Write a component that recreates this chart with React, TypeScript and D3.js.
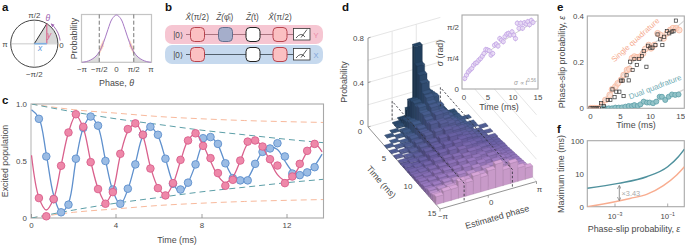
import React from "react";
import * as d3 from "d3";

const FONT = "'Liberation Sans', Arial, sans-serif";
const INK = "#4a4a4a";
const FRAME = "#a8a8a8";
const PI = Math.PI;
const TICK = 7.9;
const LABEL = 8.9;

// panel a
const thetaGrid = d3.range(-8, 9);
const gaussian = [0, 0.015, 0.05, 0.11, 0.22, 0.42, 0.69, 0.92, 1, 0.92, 0.69, 0.42, 0.22, 0.11, 0.05, 0.015, 0];
const lowerFit = [0, 0.015, 0.05, 0.11, 0.16, 0.34, 0.68, 0.92, 1, 0.92, 0.68, 0.34, 0.16, 0.11, 0.05, 0.015, 0];
const sweepAngles = [1.45, 1.3, 1.15, 1.0, 0.85, 0.72];

// panel c
const popTimes = d3.range(1, 39);
const bluePts = [0.87, 0.54, 0.165, 0.05, 0.117, 0.52, 0.79, 0.89, 0.81, 0.5, 0.25, 0.125, 0.257, 0.47, 0.73, 0.8, 0.73, 0.52, 0.3, 0.25, 0.31, 0.47, 0.7, 0.71, 0.65, 0.48, 0.35, 0.33, 0.33, 0.475, 0.58, 0.61, 0.656, 0.54, 0.39, 0.376, 0.4, 0.446];
const pinkPts = [0.175, 0.015, 0.166, 0.458, 0.75, 0.91, 0.8, 0.49, 0.254, 0.125, 0.227, 0.563, 0.78, 0.83, 0.73, 0.434, 0.262, 0.198, 0.306, 0.51, 0.68, 0.743, 0.633, 0.525, 0.394, 0.283, 0.335, 0.504, 0.67, 0.68, 0.627, 0.516, 0.46, 0.306, 0.364, 0.475, 0.589, 0.65];
const blueFit = [0.95, 0.88, 0.56, 0.2, 0.05, 0.13, 0.5, 0.79, 0.89, 0.8, 0.51, 0.24, 0.12, 0.25, 0.48, 0.72, 0.8, 0.72, 0.52, 0.31, 0.22, 0.31, 0.47, 0.66, 0.71, 0.64, 0.48, 0.36, 0.31, 0.35, 0.47, 0.58, 0.62, 0.6, 0.5, 0.41, 0.37, 0.4, 0.46, 0.56];
const pinkFit = [0.55, 0.18, 0.07, 0.17, 0.46, 0.75, 0.9, 0.79, 0.5, 0.26, 0.14, 0.24, 0.55, 0.76, 0.83, 0.72, 0.45, 0.27, 0.2, 0.3, 0.5, 0.68, 0.74, 0.64, 0.5, 0.37, 0.31, 0.36, 0.5, 0.65, 0.68, 0.62, 0.5, 0.38, 0.33, 0.36, 0.46, 0.58, 0.65, 0.58];
const envTimes = [0, 2, 4, 6, 8, 10, 12, 14];
const tealUpper = [1, 0.93, 0.87, 0.82, 0.77, 0.73, 0.69, 0.656];
const tealLower = [0, 0.07, 0.13, 0.18, 0.23, 0.27, 0.31, 0.344];
const peachUpper = [1, 0.95, 0.92, 0.89, 0.87, 0.855, 0.845, 0.837];
const peachLower = [0, 0.05, 0.08, 0.11, 0.13, 0.145, 0.155, 0.163];

// panel d: one list per time row, thirteen phase bins
const barRows = [
  [0, 0, 0, 0, 0.01, 0.08, 0.63, 0.2, 0.06, 0.01, 0, 0, 0],
  [0, 0, 0, 0.01, 0.03, 0.18, 0.48, 0.22, 0.06, 0.02, 0, 0, 0],
  [0, 0, 0, 0.01, 0.05, 0.2, 0.42, 0.23, 0.07, 0.02, 0.005, 0, 0],
  [0, 0, 0.005, 0, 0.06, 0.21, 0.37, 0.24, 0.08, 0.03, 0.005, 0, 0],
  [0, 0.005, 0, 0.02, 0.08, 0.2, 0.3, 0.25, 0.1, 0.04, 0.01, 0, 0],
  [0, 0, 0.01, 0.03, 0.09, 0.22, 0.29, 0.2, 0.11, 0.04, 0.01, 0.005, 0],
  [0, 0.005, 0, 0.02, 0.11, 0.19, 0.26, 0.22, 0.12, 0.05, 0.015, 0, 0],
  [0.005, 0, 0.01, 0.04, 0.1, 0.2, 0.25, 0.19, 0.13, 0.06, 0.015, 0.005, 0],
  [0, 0.01, 0.005, 0.05, 0.12, 0.18, 0.22, 0.2, 0.12, 0.07, 0.02, 0.005, 0],
  [0.005, 0, 0.02, 0.04, 0.11, 0.17, 0.23, 0.18, 0.13, 0.07, 0.03, 0, 0.005],
  [0, 0.015, 0.005, 0.06, 0.12, 0.19, 0.19, 0.17, 0.13, 0.08, 0.025, 0.01, 0],
  [0.01, 0, 0.025, 0.05, 0.13, 0.15, 0.2, 0.18, 0.11, 0.08, 0.04, 0.01, 0.005],
  [0, 0.02, 0.01, 0.07, 0.1, 0.17, 0.17, 0.16, 0.14, 0.09, 0.04, 0.015, 0],
  [0.015, 0.005, 0.03, 0.06, 0.12, 0.14, 0.19, 0.17, 0.12, 0.09, 0.05, 0.01, 0.01],
  [0.005, 0.02, 0.02, 0.08, 0.11, 0.16, 0.16, 0.15, 0.13, 0.09, 0.05, 0.02, 0.005],
  [0.02, 0.01, 0.04, 0.07, 0.12, 0.13, 0.18, 0.14, 0.13, 0.08, 0.06, 0.025, 0.01],
  [0.01, 0.025, 0.03, 0.09, 0.1, 0.15, 0.14, 0.16, 0.11, 0.1, 0.05, 0.03, 0.015],
  [0.025, 0.02, 0.05, 0.07, 0.12, 0.12, 0.17, 0.13, 0.12, 0.08, 0.07, 0.03, 0.02],
  [0.02, 0.03, 0.04, 0.09, 0.09, 0.15, 0.13, 0.15, 0.1, 0.1, 0.06, 0.04, 0.02],
  [0.03, 0.025, 0.06, 0.07, 0.12, 0.11, 0.16, 0.12, 0.12, 0.09, 0.07, 0.045, 0.025],
  [0.025, 0.04, 0.05, 0.09, 0.1, 0.14, 0.12, 0.15, 0.1, 0.11, 0.07, 0.05, 0.03],
  [0.035, 0.03, 0.07, 0.08, 0.12, 0.11, 0.15, 0.11, 0.12, 0.09, 0.09, 0.05, 0.035],
  [0.03, 0.05, 0.06, 0.1, 0.09, 0.14, 0.11, 0.14, 0.1, 0.12, 0.08, 0.06, 0.04],
  [0.04, 0.04, 0.08, 0.08, 0.12, 0.1, 0.15, 0.11, 0.12, 0.09, 0.1, 0.06, 0.045],
  [0.035, 0.06, 0.07, 0.1, 0.09, 0.14, 0.11, 0.14, 0.09, 0.12, 0.09, 0.07, 0.05],
  [0.05, 0.05, 0.09, 0.08, 0.12, 0.1, 0.14, 0.11, 0.12, 0.09, 0.11, 0.07, 0.055],
  [0.045, 0.07, 0.08, 0.11, 0.09, 0.13, 0.1, 0.14, 0.09, 0.13, 0.09, 0.08, 0.06],
  [0.055, 0.06, 0.09, 0.09, 0.12, 0.1, 0.13, 0.11, 0.12, 0.1, 0.11, 0.08, 0.07],
  [0.07, 0.1, 0.1, 0.15, 0.12, 0.16, 0.13, 0.17, 0.21, 0.14, 0.18, 0.12, 0.1],
];

// inset of panel d
const sigmaTimes = [0.35, 0.7, 1.05, 1.4, 1.75, 2.1, 2.45, 2.8, 3.15, 3.5, 3.85, 4.2, 4.55, 4.9, 5.25, 5.6, 5.95, 6.3, 6.65, 7, 7.35, 7.7, 8.05, 8.4, 8.75, 9.1, 9.45, 9.8, 10.15, 10.5, 10.85, 11.2, 11.55, 11.9, 12.25, 12.6, 12.95, 13.3, 13.65, 14];
const sigmaVals = [0.255, 0.34, 0.42, 0.47, 0.51, 0.59, 0.64, 0.66, 0.72, 0.76, 0.82, 0.89, 0.99, 0.98, 0.96, 0.85, 0.89, 1.1, 1.13, 1.08, 1.27, 1.23, 1.19, 1.32, 1.38, 1.4, 1.36, 1.44, 1.36, 1.27, 1.66, 1.53, 1.66, 1.53, 1.67, 1.64, 1.7, 1.62, 1.73, 1.68];
const sigmaFitT = [0, 1, 2, 4, 6, 8, 10, 12, 14, 15];
const sigmaFitV = [0.2, 0.42, 0.57, 0.82, 1.02, 1.2, 1.37, 1.52, 1.67, 1.73];

// panel e
const squareT = [0, 0.35, 0.7, 1.05, 1.4, 1.77, 2.2, 2.87, 3.3, 3.65, 4, 4.3, 4.8, 5.1, 5.35, 5.5, 6, 6.35, 6.6, 7, 7.3, 7.7, 8.1, 8.55, 8.85, 9.3, 9.6, 9.95, 10.3, 10.8, 11.15, 11.6, 11.95, 12.25, 12.7, 13.1, 13.5, 13.8, 14.2];
const squareV = [0, 0, 0, 0, 0, 0.022, 0.01, 0.036, 0.036, 0.082, 0.048, 0.072, 0.072, 0.12, 0.12, 0.053, 0.143, 0.121, 0.202, 0.166, 0.214, 0.188, 0.214, 0.227, 0.248, 0.18, 0.271, 0.263, 0.263, 0.274, 0.32, 0.299, 0.274, 0.31, 0.335, 0.325, 0.332, 0.334, 0.38];
const singleT = [0, 0.35, 0.7, 1.05, 1.4, 1.93, 2.49, 3.2, 3.59, 4.14, 4.53, 5.08, 5.52, 6.08, 6.46, 6.9, 7.29, 7.73, 8.29, 8.73, 9.12, 9.67, 10.06, 10.6, 11.16, 11.6, 12.15, 12.7, 13.26, 13.7, 14.25, 14.75];
const singleV = [0, 0, 0, 0, 0, 0.014, 0.036, 0.058, 0.082, 0.094, 0.108, 0.123, 0.144, 0.166, 0.17, 0.217, 0.224, 0.221, 0.224, 0.238, 0.257, 0.274, 0.26, 0.274, 0.325, 0.318, 0.303, 0.325, 0.339, 0.347, 0.347, 0.339];
const dualT = [2.1, 2.49, 3.04, 3.59, 4.14, 4.7, 5.25, 5.8, 6.35, 6.9, 7.3, 7.85, 8.3, 8.84, 9.4, 9.83, 10.4, 10.94, 11.5, 11.88, 12.43, 13, 13.54, 14.09, 14.64];
const dualV = [0, 0, 0, 0, 0.003, 0.003, 0.004, 0.007, 0.01, 0.01, 0.014, 0.01, 0.017, 0.029, 0.025, 0.025, 0.022, 0.029, 0.05, 0.05, 0.036, 0.05, 0.06, 0.058, 0.06];
const singleFitT = [1.1, 3, 6, 10, 14, 15.6];
const singleFitV = [0, 0.06, 0.17, 0.27, 0.345, 0.38];
const dualFitT = [3.3, 6, 10, 13, 15.6];
const dualFitV = [0, 0.008, 0.025, 0.05, 0.082];

// panel f
const tealEps = [8.9e-5, 1.34e-3, 0.0159, 0.1, 0.254, 0.43];
const tealTime = [2.99, 4.66, 7.96, 16.6, 33.5, 56.6];
const peachEps = [8.9e-5, 1e-3, 3.7e-3, 0.0159, 0.0684, 0.22, 0.43];
const peachTime = [0, 0.494, 0.92, 1.59, 3.84, 9.03, 16.6];

// circuit of panel b
const gateNames = ["a", "b", "c", "d"];
const gateLabels = ["X̂(π/2)", "Ẑ(φ̂ᵢ)", "Ẑ(t)", "X̂(π/2)"];

const T = ({ x, y, size = TICK, fill = INK, anchor = "middle", rotate, italic, bold, children }: any) => (
  <text
    x={x}
    y={y}
    fontSize={size}
    fill={fill}
    textAnchor={anchor}
    fontFamily={FONT}
    fontStyle={italic ? "italic" : undefined}
    fontWeight={bold ? 700 : undefined}
    transform={rotate !== undefined ? `rotate(${rotate} ${x} ${y})` : undefined}
  >
    {children}
  </text>
);

// single-qubit circle and phase distribution
function PanelA() {
  const cx = 34.3;
  const cy = 43.7;
  const r = 23.6;
  const ang = (58 * PI) / 180;
  const wedge = d3.arc()({ innerRadius: 0, outerRadius: r, startAngle: PI / 2 - ang, endAngle: PI / 2 } as any) || "";
  const sweep = d3.lineRadial<number>().angle((d) => d).radius(r + 2.4).curve(d3.curveCatmullRom)(sweepAngles) || "";
  const tipX = r * Math.cos(ang);
  const tipY = -r * Math.sin(ang);
  const x = d3.scaleLinear().domain([-PI, PI]).range([82, 151]);
  const y = d3.scaleLinear().domain([0, 1]).range([62.3, 15]);
  const th = thetaGrid.map((d) => (d * PI) / 8);
  const line = d3.line<number>().x((_, i) => x(th[i])).y((d) => y(d)).curve(d3.curveCatmullRom);
  const tail = (a: number, b: number) =>
    d3.area<number>().x((i) => x(th[i])).y0(y(0)).y1((i) => y(gaussian[i])).curve(d3.curveCatmullRom)(d3.range(a, b + 1)) || "";
  const wing = (idx: number[]) =>
    d3.area<number>().x((i) => x(th[i])).y0((i) => y(lowerFit[i])).y1((i) => y(gaussian[i] + 0.07))(idx) || "";
  const tickNames = ["−π", "−π/2", "0", "π/2", "π"];
  return (
    <g>
      <T x={2} y={11} size={11.5} fill="#111" anchor="start" bold>a</T>
      <g transform={`translate(${cx},${cy})`}>
        <line x1={-r} x2={r} y1={0} y2={0} stroke="#dcdcdc" strokeWidth={1.6} />
        <line x1={0} x2={0} y1={-r} y2={r} stroke="#dcdcdc" strokeWidth={1} />
        <path d={wedge} fill="#d8d8d8" />
        <circle r={r} fill="none" stroke="#444" strokeWidth={1} />
        <line x1={0} y1={0} x2={tipX} y2={tipY} stroke="#333" strokeWidth={1} />
        <line x1={tipX} y1={0} x2={tipX} y2={tipY} stroke="#d95f8a" strokeWidth={1.1} />
        <line x1={0} y1={0} x2={tipX} y2={0} stroke="#7fb0e2" strokeWidth={1.6} />
        <path d={sweep} fill="none" stroke="#9c63b0" strokeWidth={0.9} markerEnd="url(#arcHead)" />
      </g>
      <T x={34.3} y={17.5}>π/2</T>
      <T x={34.3} y={76.5}>−π/2</T>
      <T x={5} y={46.5}>π</T>
      <T x={61.5} y={47.5}>0</T>
      <T x={47.8} y={21} fill="#9c63b0" italic size={8.5}>θ</T>
      <T x={49} y={38} fill="#d95f8a" italic size={8.5}>y</T>
      <T x={40} y={51} fill="#5d94d6" italic size={8.5}>x</T>

      <path d={tail(0, 4)} fill="#dcdcdc" />
      <path d={tail(12, 16)} fill="#dcdcdc" />
      <path d={wing([4, 5])} fill="#fbd0b8" />
      <path d={wing([11, 12])} fill="#fbd0b8" />
      <rect x={81.5} y={14.5} width={70} height={47.8} fill="none" stroke="#c4c4c4" strokeWidth={1.2} />
      <path d={line(gaussian) || ""} fill="none" stroke="#a678c4" strokeWidth={1} />
      {[-PI / 2, PI / 2].map((d) => (
        <line key={d} x1={x(d)} x2={x(d)} y1={14.5} y2={62.3} stroke="#666" strokeWidth={0.9} strokeDasharray="4 2.2" />
      ))}
      {[-PI, -PI / 2, 0, PI / 2, PI].map((d, i) => (
        <T key={d} x={x(d)} y={71.5}>{tickNames[i]}</T>
      ))}
      <T x={77} y={38.5} size={LABEL} rotate={-90}>Probability</T>
      <T x={116.5} y={86} size={LABEL}>Phase, <tspan fontStyle="italic">θ</tspan></T>
    </g>
  );
}

function PanelB() {
  const gx = d3.scalePoint<string>().domain(gateNames).range([197.2, 280]);
  const bands = [
    { y: 25, fill: "#f6c6d2", wire: "#a9737f", label: "Y", labelFill: "#ea8aa6" },
    { y: 45, fill: "#c6d9ee", wire: "#52606c", label: "X", labelFill: "#7fa5d8" },
  ];
  return (
    <g>
      <T x={165} y={11} size={11.5} fill="#111" anchor="start" bold>b</T>
      {gateLabels.map((d, i) => (
        <T key={i} x={gx(gateNames[i])} y={20} size={8.2}>
          <tspan fontStyle="italic">{d.slice(0, 2)}</tspan>
          {d.slice(2)}
        </T>
      ))}
      {bands.map((b, row) => {
        const my = b.y + 9.5;
        return (
          <g key={b.label}>
            <rect x={165} y={b.y} width={158} height={19} rx={7} fill={b.fill} />
            <T x={178} y={my + 3} size={8.2}>|0⟩</T>
            <line x1={186} x2={293} y1={my} y2={my} stroke={b.wire} strokeWidth={1} />
            <rect x={190.5} y={my - 7} width={14} height={14} rx={4} fill="#fbc0c2" stroke="#b8444e" strokeWidth={1} />
            {row === 0 && <rect x={218.5} y={my - 7} width={14} height={14} rx={4} fill="#a5aecb" stroke="#66708f" strokeWidth={1} />}
            <rect x={246} y={my - 7} width={14} height={14} rx={4} fill="#fff" stroke="#222" strokeWidth={1} />
            <rect x={273} y={my - 7} width={14} height={14} rx={4} fill="#fbc0c2" stroke="#b8444e" strokeWidth={1} />
            <rect x={293.5} y={my - 6} width={16.5} height={11.5} fill="#fff" stroke="#333" strokeWidth={0.8} />
            <path d={`M296 ${my + 3.5}Q301 ${my - 3} 305 ${my + 2.5}M301 ${my + 3}L307 ${my - 5}`} fill="none" stroke="#333" strokeWidth={0.8} />
            <T x={316} y={my + 3} size={7.5} fill={b.labelFill}>{b.label}</T>
          </g>
        );
      })}
    </g>
  );
}

function PanelC() {
  const x = d3.scaleLinear().domain([0, 4, 8, 12]).range([31.5, 116, 202, 287]);
  const y = d3.scaleLinear().domain([0, 1]).range([218, 104]);
  const tOf = (k: number) => k * 0.35;
  const fit = d3.line<number>().x((_, i) => x(tOf(i))).y((d) => y(d)).curve(d3.curveCatmullRom);
  const env = d3.line<number>().x((_, i) => x(envTimes[i])).y((d) => y(d)).curve(d3.curveMonotoneX);
  return (
    <g>
      <T x={2} y={104} size={11.5} fill="#111" anchor="start" bold>c</T>
      <defs>
        <clipPath id="clipC"><rect x={31} y={104} width={292} height={114} /></clipPath>
      </defs>
      <rect x={31} y={104} width={292.5} height={114} fill="none" stroke={FRAME} strokeWidth={1.1} />
      <line x1={31} x2={31} y1={104} y2={218} stroke="#d8d8d8" strokeWidth={2} />
      <g clipPath="url(#clipC)" fill="none" strokeWidth={1} strokeDasharray="6 4">
        <path d={env(peachUpper) || ""} stroke="#f8b99c" />
        <path d={env(peachLower) || ""} stroke="#f8b99c" />
        <path d={env(tealUpper) || ""} stroke="#5d9fa8" />
        <path d={env(tealLower) || ""} stroke="#5d9fa8" />
      </g>
      <g clipPath="url(#clipC)" fill="none" strokeWidth={1.3}>
        <path d={fit(blueFit) || ""} stroke="#5f90cd" />
      </g>
      {popTimes.map((k, i) => (
        <circle key={k} cx={x(tOf(k))} cy={y(bluePts[i])} r={3.8} fill="#9bbce4" stroke="#5f90cd" strokeWidth={0.9} />
      ))}
      <g clipPath="url(#clipC)" fill="none" strokeWidth={1.3}>
        <path d={fit(pinkFit) || ""} stroke="#d9608c" />
      </g>
      {popTimes.map((k, i) => (
        <circle key={k} cx={x(tOf(k))} cy={y(pinkPts[i])} r={3.8} fill="#ee88a9" stroke="#d9608c" strokeWidth={0.9} />
      ))}
      {[0, 4, 8, 12].map((d) => (
        <g key={d}>
          <line x1={x(d)} x2={x(d)} y1={214} y2={218} stroke="#888" strokeWidth={0.8} />
          <T x={x(d)} y={228}>{d}</T>
        </g>
      ))}
      {[[1, "1.0"], [0.5, "0.5"], [0, "0"]].map(([d, s]: any) => (
        <T key={s} x={27} y={y(d) + 3} anchor="end">{s}</T>
      ))}
      <T x={8} y={161} size={LABEL} rotate={-90}>Excited population</T>
      <T x={177} y={243} size={LABEL}>Time (ms)</T>
    </g>
  );
}

function PanelD() {
  const oX = 368;
  const oY = 127;
  const pdx = d3.scaleLinear().domain([-PI, PI]).range([0, 96.5]);
  const pdy = d3.scaleLinear().domain([-PI, PI]).range([0, -27.5]);
  const tdx = d3.scaleLinear().domain([0, 15]).range([0, 72]);
  const tdy = d3.scaleLinear().domain([0, 15]).range([0, 82]);
  const zdy = d3.scaleLinear().domain([0, 0.8]).range([0, -89]);
  const px = (p: number, t: number) => oX + pdx(p) + tdx(t);
  const py = (p: number, t: number, z = 0) => oY + pdy(p) + tdy(t) + zdy(z);
  const poly = (pts: [number, number, number][]) =>
    pts.map(([p, t, z]) => `${px(p, t).toFixed(2)},${py(p, t, z).toFixed(2)}`).join(" ");

  const nBins = barRows[0].length;
  const binW = (2 * PI) / nBins;
  const rowDepth = 14.2 / barRows.length;
  const colour = d3
    .scaleLinear<string>()
    .domain([0, 3, 8, 12, 14.2])
    .range(["#1f3c58", "#3d5680", "#64599a", "#9373b5", "#cf9fcb"]);

  const bars: React.ReactNode[] = [];
  barRows.forEach((row, r) => {
    const t0 = r * rowDepth;
    const t1 = t0 + rowDepth;
    const base = colour(t0 + rowDepth / 2);
    const top = d3.color(base)!.brighter(0.2).formatHex();
    const left = d3.color(base)!.darker(0.6).formatHex();
    const edge = d3.color(base)!.darker(0.5).formatHex();
    for (let c = nBins - 1; c >= 0; c--) {
      const h = row[c];
      if (h <= 0) continue;
      const p0 = -PI + c * binW;
      const p1 = p0 + binW;
      bars.push(
        <g key={`${r}-${c}`} stroke={edge} strokeWidth={0.35}>
          <polygon points={poly([[p0, t0, 0], [p0, t1, 0], [p0, t1, h], [p0, t0, h]])} fill={left} />
          <polygon points={poly([[p0, t1, 0], [p1, t1, 0], [p1, t1, h], [p0, t1, h]])} fill={base} />
          <polygon points={poly([[p0, t0, h], [p1, t0, h], [p1, t1, h], [p0, t1, h]])} fill={top} />
        </g>
      );
    }
  });

  const sx = d3.scaleLinear().domain([0, 15]).range([463, 538]);
  const sy = d3.scaleLinear().domain([0, PI / 2]).range([88.5, 26.7]);
  const sigFit = d3.line<number>().x((_, i) => sx(sigmaFitT[i])).y((d) => sy(d));

  const GRID = "#dedede";
  return (
    <g>
      <T x={342} y={11} size={11.5} fill="#111" anchor="start" bold>d</T>
      {[0, 0.2, 0.4, 0.6, 0.8].map((z) => (
        <line key={z} x1={px(-PI, 0)} y1={py(-PI, 0, z)} x2={px(PI / 2, 0)} y2={py(PI / 2, 0, z)} stroke={GRID} strokeWidth={0.8} />
      ))}
      {[-PI / 2, 0].map((p) => (
        <line key={p} x1={px(p, 0)} y1={py(p, 0, 0)} x2={px(p, 0)} y2={py(p, 0, 0.8)} stroke={GRID} strokeWidth={0.8} />
      ))}
      {[0, 0.2, 0.4, 0.6].map((z) => (
        <line key={z} x1={px(PI, 0)} y1={py(PI, 0, z)} x2={px(PI, 15)} y2={py(PI, 15, z)} stroke={GRID} strokeWidth={0.8} />
      ))}
      <line x1={oX} x2={oX} y1={py(-PI, 0, 0)} y2={py(-PI, 0, 0.8)} stroke="#888" strokeWidth={0.9} />
      {[0, 0.4, 0.8].map((z) => (
        <g key={z}>
          <line x1={oX} x2={oX + 2.5} y1={py(-PI, 0, z)} y2={py(-PI, 0, z) - 0.7} stroke="#888" strokeWidth={0.8} />
          <T x={oX - 4} y={py(-PI, 0, z) + (z === 0 ? -2 : 3)} anchor="end">{z}</T>
        </g>
      ))}
      <line x1={px(-PI, 0)} y1={py(-PI, 0)} x2={px(-PI, 15)} y2={py(-PI, 15)} stroke="#888" strokeWidth={0.9} />
      <line x1={px(-PI, 15)} y1={py(-PI, 15)} x2={px(PI, 15)} y2={py(PI, 15)} stroke="#888" strokeWidth={0.9} />
      {[0, 5, 10, 15].map((t) => (
        <T key={t} x={px(-PI, t) - 8} y={py(-PI, t) + 7}>{t}</T>
      ))}
      {[[-PI, "−π"], [0, "0"], [PI, "π"]].map(([p, s]: any) => (
        <g key={s}>
          <line x1={px(p, 15)} y1={py(p, 15)} x2={px(p, 15)} y2={py(p, 15) + 2.5} stroke="#888" strokeWidth={0.8} />
          <T x={px(p, 15) + 3} y={py(p, 15) + 10}>{s}</T>
        </g>
      ))}
      <T x={346.5} y={82} size={LABEL} rotate={-90}>Probability</T>
      <T x={379} y={184} size={LABEL} rotate={49}>Time (ms)</T>
      <T x={498} y={220} size={LABEL} rotate={-16}>Estimated phase</T>

      {/* inset sits over the wall grid, bars stay in front */}
      <rect x={462} y={15} width={76} height={74} fill="#fff" stroke={FRAME} strokeWidth={1.1} />
      {bars}
      {[-PI / 2, PI / 2].map((p) => (
        <polyline
          key={p}
          points={poly([[p, 0, 0], [p, 0, 0.17], [p, 15, 0.17], [p, 15, 0]])}
          fill="none"
          stroke="#2c2c34"
          strokeWidth={0.8}
          strokeDasharray="2.4 1.8"
        />
      ))}

      <path d={sigFit(sigmaFitV) || ""} fill="none" stroke="#d2d2d2" strokeWidth={1} />
      {sigmaTimes.map((t, i) => (
        <g key={t} stroke="#c3a6e4" strokeWidth={0.8}>
          <line x1={sx(t)} x2={sx(t)} y1={sy(sigmaVals[i] - 0.07)} y2={sy(sigmaVals[i] + 0.07)} />
          <circle cx={sx(t)} cy={sy(sigmaVals[i])} r={2.1} fill="#e9dcf6" fillOpacity={0.75} />
        </g>
      ))}
      <text x={514} y={84.5} fontSize={6.4} fill="#9a9a9a" fontFamily={FONT}>
        <tspan fontStyle="italic">σ</tspan> ∝ <tspan fontStyle="italic">t</tspan>
        <tspan fontSize={4.6} dy={-2.6}>0.56</tspan>
      </text>
      {[[0, "0"], [PI / 4, "π/4"], [PI / 2, "π/2"]].map(([d, s]: any) => (
        <T key={s} x={459} y={sy(d) + 3} anchor="end">{s}</T>
      ))}
      {[0, 5, 10, 15].map((d) => (
        <T key={d} x={sx(d) + (d === 0 ? 1 : 0)} y={99.5}>{d}</T>
      ))}
      <T x={443} y={53} size={LABEL} rotate={-90}><tspan fontStyle="italic">σ</tspan> (rad)</T>
      <T x={499} y={109.5} size={LABEL}>Time (ms)</T>
    </g>
  );
}

function PanelE() {
  const x = d3.scaleLinear().domain([0, 15]).range([590.5, 680.7]);
  const y = d3.scaleLinear().domain([0, 0.4]).range([108.3, 16]);
  const line = (ts: number[]) => d3.line<number>().x((_, i) => x(ts[i])).y((d) => y(d)).curve(d3.curveMonotoneX);
  return (
    <g>
      <T x={557} y={11} size={11.5} fill="#111" anchor="start" bold>e</T>
      <defs>
        <clipPath id="clipE"><rect x={587.3} y={16} width={97} height={92.3} /></clipPath>
      </defs>
      <rect x={587.3} y={16} width={97} height={92.3} fill="none" stroke={FRAME} strokeWidth={1.1} />
      <g clipPath="url(#clipE)">
        <path d={line(singleFitT)(singleFitV) || ""} fill="none" stroke="#d4d4d4" strokeWidth={1.2} />
        <path d={line(dualFitT)(dualFitV) || ""} fill="none" stroke="#d4d4d4" strokeWidth={1.2} />
        {singleT.map((t, i) => (
          <circle key={t} cx={x(t)} cy={y(singleV[i])} r={2.9} fill="#fbd2c2" fillOpacity={0.6} stroke="#f8b79d" strokeWidth={0.8} />
        ))}
        {dualT.map((t, i) => (
          <circle key={t} cx={x(t)} cy={y(dualV[i])} r={2.5} fill="#93c3c8" stroke="#5d9fa8" strokeWidth={0.8} />
        ))}
        {squareT.map((t, i) => (
          <rect key={t} x={x(t) - 1.6} y={y(squareV[i]) - 1.6} width={3.2} height={3.2} fill="none" stroke="#333" strokeWidth={0.7} />
        ))}
      </g>
      <T x={637} y={42} size={7.8} fill="#f5a98c" rotate={-42}>Single quadrature</T>
      <T x={656} y={89.5} size={7.8} fill="#6fabb3" rotate={-21}>Dual quadrature</T>
      {[[0.4, "0.4"], [0.2, "0.2"], [0, "0"]].map(([d, s]: any) => (
        <T key={s} x={584} y={y(d) + 3} anchor="end">{s}</T>
      ))}
      {[0, 5, 10, 15].map((d) => (
        <T key={d} x={x(d)} y={118.5}>{d}</T>
      ))}
      <T x={565} y={62} size={LABEL} rotate={-90}>Phase-slip probability, <tspan fontStyle="italic">ε</tspan></T>
      <T x={636} y={128} size={LABEL}>Time (ms)</T>
    </g>
  );
}

function PanelF() {
  const x = d3.scaleLog().domain([1e-3, 1e-1]).range([615, 667.7]);
  const y = d3.scaleSymlog().constant(1.25).domain([0, 100]).range([206.7, 140.7]);
  const line = (eps: number[]) => d3.line<number>().x((_, i) => x(eps[i])).y((d) => y(d)).curve(d3.curveMonotoneX);
  return (
    <g>
      <T x={557} y={133} size={11.5} fill="#111" anchor="start" bold>f</T>
      <defs>
        <clipPath id="clipF"><rect x={587.3} y={140.7} width={97} height={66} /></clipPath>
        <marker id="grayHead" markerWidth={5} markerHeight={5} refX={4} refY={2.5} orient="auto-start-reverse">
          <path d="M0 0L5 2.5L0 5" fill="none" stroke="#777" strokeWidth={0.8} />
        </marker>
        <marker id="arcHead" markerWidth={6} markerHeight={6} refX={3} refY={2} orient="auto">
          <path d="M0 0L4 2L0 4Z" fill="#9c63b0" />
        </marker>
      </defs>
      <rect x={587.3} y={140.7} width={97} height={66} fill="none" stroke={FRAME} strokeWidth={1.1} />
      <g clipPath="url(#clipF)" fill="none" strokeWidth={1.5}>
        <path d={line(tealEps)(tealTime) || ""} stroke="#4f919d" />
        <path d={line(peachEps)(peachTime) || ""} stroke="#f8ad90" />
      </g>
      <line x1={619.3} x2={619.3} y1={186} y2={200} stroke="#777" strokeWidth={0.8} markerStart="url(#grayHead)" markerEnd="url(#grayHead)" />
      <T x={621.5} y={195.5} size={7.4} fill="#a8a8a8" anchor="start">×3.43</T>
      {[1e-3, 1e-1].map((d, i) => (
        <g key={d}>
          <line x1={x(d)} x2={x(d)} y1={203.5} y2={206.7} stroke="#888" strokeWidth={0.7} />
          <text x={x(d)} y={219} fontSize={7.8} fill={INK} textAnchor="middle" fontFamily={FONT}>
            10<tspan fontSize={5.2} dy={-3}>{i === 0 ? "−3" : "−1"}</tspan>
          </text>
        </g>
      ))}
      {[[100, "100"], [10, "10"], [0, "0"]].map(([d, s]: any) => (
        <T key={s} x={584} y={y(d) + 3} anchor="end">{s}</T>
      ))}
      <T x={564} y={174} size={LABEL} rotate={-90}>Maximum time (ms)</T>
      <T x={634} y={232} size={LABEL}>Phase-slip probability, <tspan fontStyle="italic">ε</tspan></T>
    </g>
  );
}

export default function App() {
  return (
    <svg
      width={685}
      height={245}
      viewBox="0 0 685 245"
      style={{ position: "absolute", left: 0, top: 0, display: "block", background: "#fff" }}
    >
      <PanelF />
      <PanelA />
      <PanelB />
      <PanelC />
      <PanelD />
      <PanelE />
    </svg>
  );
}
